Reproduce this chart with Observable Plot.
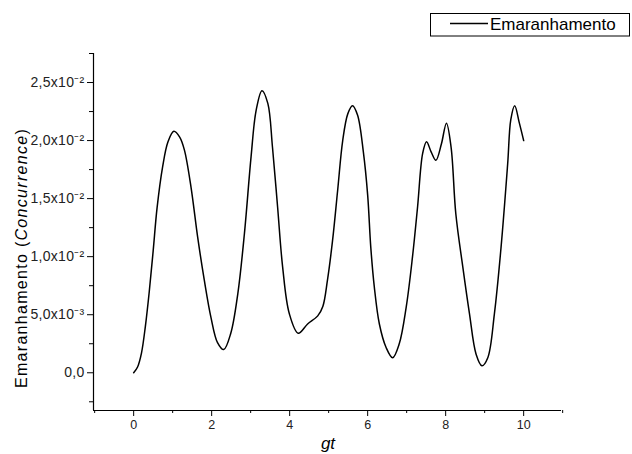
<!DOCTYPE html>
<html><head><meta charset="utf-8">
<script src="https://cdn.jsdelivr.net/npm/d3@7"></script>
<script src="https://cdn.jsdelivr.net/npm/@observablehq/plot@0.6"></script>
<style>body{margin:0;background:#fff}</style>
</head><body><div id="chart"></div>
<script>
const gt = [0, 0.1, 0.2, 0.3, 0.4, 0.5, 0.6, 0.74, 0.88, 1.03, 1.18, 1.30, 1.47, 1.64, 1.81, 1.98, 2.15, 2.31, 2.49, 2.67, 2.84, 3.01, 3.14, 3.29, 3.44, 3.56, 3.69, 3.82, 3.99, 4.22, 4.46, 4.72, 4.85, 4.97, 5.10, 5.23, 5.36, 5.49, 5.61, 5.74, 5.89, 6.0, 6.08, 6.17, 6.30, 6.47, 6.64, 6.81, 6.99, 7.15, 7.28, 7.41, 7.51, 7.63, 7.75, 7.89, 8.02, 8.14, 8.26, 8.44, 8.61, 8.78, 8.93, 9.08, 9.25, 9.42, 9.59, 9.67, 9.77, 9.89, 10.0];
const concurrence = [0, 0.0005, 0.0017, 0.0040, 0.0070, 0.0105, 0.0142, 0.0177, 0.0199, 0.0208, 0.0203, 0.0192, 0.0160, 0.0117, 0.0080, 0.0048, 0.0026, 0.0020, 0.0034, 0.0068, 0.0120, 0.0186, 0.0226, 0.0243, 0.0232, 0.0194, 0.0143, 0.0091, 0.0051, 0.0034, 0.0042, 0.0049, 0.0057, 0.0080, 0.0114, 0.0157, 0.0200, 0.0223, 0.0230, 0.0222, 0.0190, 0.0153, 0.0108, 0.0074, 0.0042, 0.0022, 0.0013, 0.0025, 0.0057, 0.0100, 0.0143, 0.0189, 0.0199, 0.0190, 0.0183, 0.0197, 0.0215, 0.0194, 0.0137, 0.0091, 0.0051, 0.0016, 0.0006, 0.0013, 0.0051, 0.0108, 0.0180, 0.0218, 0.0230, 0.0215, 0.0200];
const xMajorTicks = [0, 2, 4, 6, 8, 10];
const xMinorTicks = [-1, 1, 3, 5, 7, 9, 11];
const yMajorTicks = [0, 0.005, 0.010, 0.015, 0.020, 0.025];
const yTickLabels = ["0,0", "5,0x10\u207B\u00B3", "1,0x10\u207B\u00B2", "1,5x10\u207B\u00B2", "2,0x10\u207B\u00B2", "2,5x10\u207B\u00B2"];
const yMinorTicks = [-0.0025, 0.0025, 0.0075, 0.0125, 0.0175, 0.0225, 0.0275];
const seriesName = "Emaranhamento";

const data = gt.map((x, i) => ({gt: x, c: concurrence[i]}));
const xDomain = [-1.03, 10.97];
const yDomain = [-0.00325, 0.0275];

const plot = Plot.plot({
  width: 632, height: 454,
  marginLeft: 93, marginRight: 71, marginTop: 53, marginBottom: 44,
  style: {fontFamily: "'Liberation Sans', Arial, sans-serif", fontSize: "12px", color: "#000", background: "#fff"},
  x: {domain: xDomain},
  y: {domain: yDomain},
  marks: [
    Plot.axisX({ticks: xMajorTicks, tickSize: 6, tickPadding: 4, tickFormat: d => String(d), label: null, fill: "#222", ariaLabel: "x-major"}),
    Plot.axisX({ticks: xMinorTicks, tickSize: 3, tickFormat: () => "", label: null}),
    Plot.axisY({ticks: yMajorTicks, tickSize: 6, tickPadding: 3, tickFormat: d => yTickLabels[yMajorTicks.indexOf(d)], label: null, fill: "#222", ariaLabel: "y-major"}),
    Plot.axisY({ticks: yMinorTicks, tickSize: 4, tickFormat: () => "", label: null}),
    Plot.ruleX([xDomain[0]], {stroke: "#000", strokeWidth: 1.2}),
    Plot.ruleY([yDomain[0]], {stroke: "#000", strokeWidth: 1.2}),
    Plot.line(data, {x: "gt", y: "c", stroke: "#000", strokeWidth: 1.5, curve: "catmull-rom"})
  ]
});
document.getElementById("chart").append(plot);

const svg = d3.select(plot);
svg.selectAll("g[aria-label='y-major tick label'] text, g[aria-label='y-axis tick label'] text")
  .attr("font-size", 14).attr("letter-spacing", 0.3);
svg.selectAll("g[aria-label='x-major tick label'] text, g[aria-label='x-axis tick label'] text")
  .attr("font-size", 12.5);
// y label
const yl = svg.append("text")
  .attr("transform", "translate(27,258) rotate(-90)")
  .attr("text-anchor", "middle")
  .attr("font-size", 16)
  .attr("letter-spacing", 1.3)
  .attr("fill", "#000");
yl.append("tspan").text("Emaranhamento (");
yl.append("tspan").attr("font-style", "italic").text("Concurrence");
yl.append("tspan").text(")");
// x label
svg.append("text").attr("x", 328).attr("y", 449).attr("text-anchor", "middle")
  .attr("font-size", 17).attr("font-style", "italic").attr("fill", "#000").text("gt");
// legend
const lg = svg.append("g");
lg.append("rect").attr("x", 430.5).attr("y", 13.5).attr("width", 199).attr("height", 22.5)
  .attr("fill", "#fff").attr("stroke", "#000").attr("stroke-width", 1);
lg.append("line").attr("x1", 450).attr("x2", 488).attr("y1", 23.5).attr("y2", 23.5)
  .attr("stroke", "#000").attr("stroke-width", 1.5);
lg.append("text").attr("x", 490).attr("y", 29.5).attr("text-anchor", "start")
  .attr("font-size", 17).attr("fill", "#000").text(seriesName);
</script>
</body></html>
